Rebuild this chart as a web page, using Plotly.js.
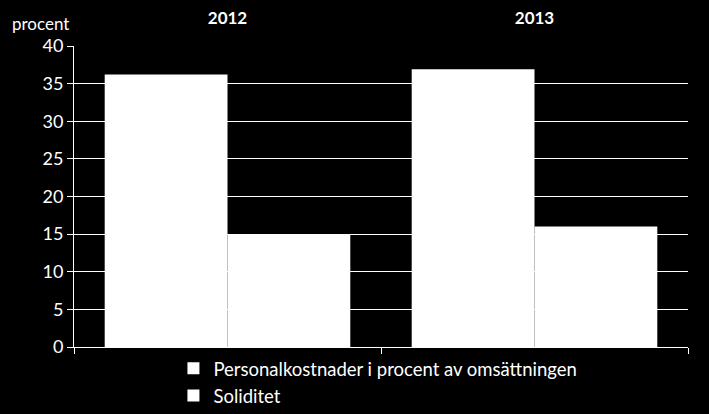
<!DOCTYPE html>
<html>
<head>
<meta charset="utf-8">
<script src="https://cdn.plot.ly/plotly-3.0.1.min.js"></script>
<style>
  html, body { margin: 0; padding: 0; background: #000; }
  #chart { width: 709px; height: 414px; }
</style>
</head>
<body>
<div id="chart"></div>
<script>
var years = ['2012', '2013'];
var personal = [36.2, 36.9];
var soliditet = [15.0, 16.0];
var seriesNames = ['Personalkostnader i procent av omsättningen', 'Soliditet'];
var yTicks = [0, 5, 10, 15, 20, 25, 30, 35, 40];

var font = 'Lato, "Open Sans", sans-serif';

var data = [
  {
    type: 'bar', name: seriesNames[0], x: years, y: personal,
    marker: { color: '#ffffff', line: { width: 0 } }, hoverinfo: 'y'
  },
  {
    type: 'bar', name: seriesNames[1], x: years, y: soliditet,
    marker: { color: '#ffffff', line: { width: 0 } }, hoverinfo: 'y'
  },
  // carries the year labels on the top axis
  {
    type: 'scatter', mode: 'none', x: years, y: [0, 0],
    xaxis: 'x2', yaxis: 'y', showlegend: false, hoverinfo: 'skip'
  }
];

var layout = {
  width: 709, height: 414,
  paper_bgcolor: '#000', plot_bgcolor: '#000',
  margin: { l: 74, r: 21, t: 46, b: 67, autoexpand: false },
  font: { family: font, color: '#fff', size: 17 },
  barmode: 'group', bargap: 0.2, bargroupgap: 0,
  xaxis: {
    type: 'category', categoryarray: years, range: [-0.5, 1.5],
    tickson: 'boundaries', ticks: 'outside', ticklen: 6, tickcolor: '#fff', tickwidth: 1,
    showticklabels: false, showgrid: false, zeroline: false,
    showline: true, linecolor: '#fff', linewidth: 1
  },
  xaxis2: {
    type: 'category', categoryarray: years, range: [-0.5, 1.5],
    overlaying: 'x', side: 'top', anchor: 'y',
    ticks: 'outside', ticklen: 14, tickcolor: 'rgba(0,0,0,0)',
    showgrid: false, zeroline: false, showline: false,
    tickfont: { family: font, size: 17, weight: 'bold', color: '#fff' }
  },
  yaxis: {
    range: [0, 40], tickvals: yTicks,
    ticks: 'outside', ticklen: 6, tickcolor: '#fff', tickwidth: 1,
    showgrid: true, gridcolor: '#fff', gridwidth: 1,
    zeroline: false, showline: true, linecolor: '#fff', linewidth: 1,
    tickfont: { family: font, size: 18, color: '#fff' }
  },
  showlegend: true,
  legend: {
    orientation: 'v', x: 0.495, xanchor: 'center',
    yref: 'container', y: 0.155, yanchor: 'top',
    bgcolor: 'rgba(0,0,0,0)', font: { family: font, size: 18.5, color: '#fff' },
    tracegroupgap: 0, traceorder: 'normal', itemwidth: 30
  },
  annotations: [{
    text: 'procent', xref: 'paper', yref: 'paper', x: -0.104, y: 1.075,
    xanchor: 'left', yanchor: 'middle', showarrow: false,
    font: { family: font, size: 17, color: '#fff' }
  }]
};

Plotly.newPlot('chart', data, layout, { displayModeBar: false, staticPlot: true });
</script>
</body>
</html>
